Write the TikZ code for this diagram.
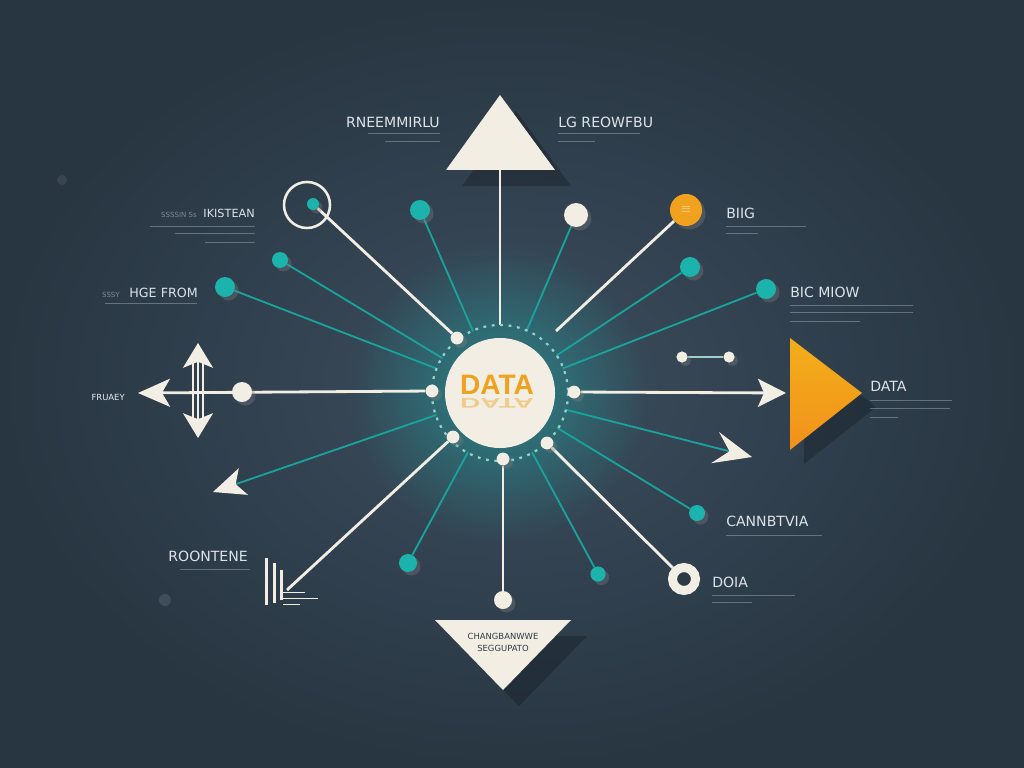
\documentclass[tikz,border=0pt]{standalone}
\usepackage{fontspec}
\setmainfont{DejaVu Sans}
\newfontfamily\hubfont{Liberation Sans}
\usetikzlibrary{arrows.meta,fadings,shadows,positioning}
\definecolor{bgin}{HTML}{3C4D5D}
\definecolor{bgout}{HTML}{283642}
\definecolor{bgmid}{HTML}{2C3A46}
\definecolor{cream}{HTML}{F2EEE4}
\definecolor{tealdot}{HTML}{1BB3AC}
\definecolor{tealline}{HTML}{18A39D}
\definecolor{amber}{HTML}{F0A11E}
\definecolor{labelgray}{HTML}{DDE2E8}
\definecolor{fineline}{HTML}{7D8A96}
\tikzfading[name=glowfade, inner color=transparent!0, outer color=transparent!100]
\pgfdeclarelayer{back}
\pgfdeclarelayer{edges}
\pgfsetlayers{back,edges,main}
\begin{document}
\begin{tikzpicture}[x=0.025cm, y=-0.025cm,
    dshadow/.style={drop shadow={opacity=.35, shadow xshift=2.5pt, shadow yshift=-2.5pt}},
    wdot/.style={circle, fill=cream, inner sep=0pt, minimum size=0.32cm, dshadow},
    tdot/.style={circle, fill=tealdot, inner sep=0pt, minimum size=0.5cm, dshadow},
    wline/.style={draw=cream, line width=2pt},
    tline/.style={draw=tealline, line width=1.3pt},
    lbl/.style={text=labelgray, font=\fontsize{10}{12}\selectfont, inner sep=0pt},
    tinylbl/.style={text=fineline, font=\fontsize{5}{6}\selectfont, inner sep=0pt},
    fine/.style={draw=fineline, line width=0.6pt, opacity=.7},
    shadowfill/.style={fill=black, opacity=.22}]

    \begin{pgfonlayer}{back}
    \shade[inner color=bgin, outer color=bgout] (0,0) rectangle (1024,768);
    \fill[tealdot, path fading=glowfade, opacity=.55] (500,393) circle[radius=150];
    \fill[fineline, opacity=.25] (165,600) circle[radius=6];
    \fill[fineline, opacity=.2] (62,180) circle[radius=5];
    \fill[shadowfill, shift={(16,16)}] (500,95) -- (555,170) -- (446,170) -- cycle;
    \fill[shadowfill, shift={(16,16)}] (435,620) -- (571,620) -- (503,690) -- cycle;
    \fill[shadowfill, shift={(14,14)}] (790,338) -- (862,393) -- (790,450) -- cycle;
    \end{pgfonlayer}

    \useasboundingbox (0,0) rectangle (1024,768);

    \node (hub) [circle, fill=cream, minimum size=2.75cm, inner sep=0pt] at (500,393) {};
    \draw[cream!55!tealdot, line width=1.6pt, dash pattern=on 2pt off 4pt] (hub.center) circle[radius=68];
    \node (hubtxt) [text=amber, font=\hubfont\bfseries\fontsize{20}{20}\selectfont] at (497,385) {DATA};
    \node (hubecho) [text=amber, opacity=.45, font=\hubfont\bfseries\fontsize{20}{20}\selectfont] at (497,403) {\scalebox{1}[-.5]{DATA}};

    \node (pTL) [wdot] at (457,338) {};
    \node (pL) [wdot] at (432,391) {};
    \node (pR) [wdot] at (574,392) {};
    \node (pBL) [wdot] at (453,437) {};
    \node (pBR) [wdot] at (547,443) {};
    \node (pB) [wdot] at (503,459) {};
    \coordinate (pT) at (500,325);
    \coordinate (pTR) at (556,331);

    \fill[cream] (500,95) -- (555,170) -- (446,170) -- cycle;
    \coordinate (triTopBase) at (500,170);
    \fill[cream] (435,620) -- (571,620) -- (503,690) -- cycle;
    \node (triBotA) [text=bgmid, font=\fontsize{6}{7}\selectfont] at (503,636) {CHANGBANWWE};
    \node (triBotB) [text=bgmid, font=\fontsize{6}{7}\selectfont] at (503,648) {SEGGUPATO};
    \shade[top color=amber!85!yellow, bottom color=amber!90!red] (790,338) -- (862,393) -- (790,450) -- cycle;

    \node (ringUL) [circle, draw=cream, line width=1.8pt, minimum size=1.15cm, inner sep=0pt] at (307,205) {};
    \node (ringULc) [tdot, minimum size=0.3cm] at (313,204) {};
    \node (tA) [tdot] at (420,210) {};
    \node (tB) [tdot, minimum size=0.4cm] at (280,260) {};
    \node (tC) [tdot] at (225,287) {};
    \node (tD) [tdot, minimum size=0.45cm] at (408,563) {};
    \node (tE) [tdot, minimum size=0.38cm] at (598,574) {};
    \node (tF) [tdot, minimum size=0.4cm] at (697,513) {};
    \node (tG) [tdot] at (766,289) {};
    \node (tH) [tdot] at (690,267) {};
    \node (cDot) [wdot, minimum size=0.6cm] at (576,215) {};
    \node (oDot) [circle, fill=amber, minimum size=0.8cm, inner sep=0pt, dshadow] at (686,210) {};
    \node (oIcon) [text=cream!90!amber, font=\small] at (oDot) {$\equiv$};
    \node (wL) [wdot, minimum size=0.5cm] at (242,392) {};
    \node (wBot) [wdot, minimum size=0.45cm] at (503,600) {};
    \node (ringBR) [circle, draw=cream, line width=6.4pt, fill=bgmid, minimum size=0.575cm, inner sep=0pt] at (684,579) {};
    \node (lkA) [wdot, minimum size=0.28cm] at (682,357) {};
    \node (lkB) [wdot, minimum size=0.28cm] at (729,357) {};

    \coordinate (arL) at (138,393);
    \coordinate (arLL) at (213,492);
    \coordinate (arR) at (786,393);
    \coordinate (arChev) at (752,457);
    \coordinate (stairTip) at (287,590);
    \coordinate (vT) at (198,343);
    \coordinate (vB) at (198,438);

    \begin{pgfonlayer}{edges}
    \draw[wline] (triTopBase) -- (pT);
    \draw[wline] (pTL) -- (ringULc);
    \draw[wline] (pTR) -- (oDot);
    \draw[wline] (pB) -- (wBot);
    \draw[wline] (pBR) -- (ringBR);
    \draw[wline] (pBL) -- (stairTip);
    \draw[wline, -{Stealth[length=.8cm, width=.7cm, inset=.2cm]}] (pL) -- (arL);
    \draw[wline, -{Stealth[length=.7cm, width=.7cm, inset=.15cm]}] (pR) -- (arR);
    \foreach \tn in {tA,tB,tC,tD,tE,tF,tG,tH,cDot}
        \draw[tline, shorten >=0.3cm] (\tn) -- (hub);
    \draw[tline, shorten <=0.3cm, -{Stealth[color=cream, length=.8cm, width=.7cm, inset=.2cm]}] (hub) -- (arLL);
    \draw[tline, shorten <=0.3cm, -{Stealth[color=cream, length=.95cm, width=.8cm, inset=.37cm]}] (hub) -- (arChev);
    \draw[cream!60!tealline, line width=1.2pt] (lkA) -- (lkB);
    \draw[cream, line width=1.2pt, {Stealth[length=.62cm, width=.75cm, inset=.15cm]}-{Stealth[length=.62cm, width=.75cm, inset=.15cm]}] (vB) -- (vT);
    \draw[cream, line width=1.2pt] (193,362) -- (193,420) (203,362) -- (203,420);
    \end{pgfonlayer}

    \fill[cream] (265,558) rectangle (268,605);
    \fill[cream] (273,563) rectangle (276,603);
    \fill[cream] (280,570) rectangle (283,600);
    \draw[cream, line width=.6pt] (283,592) -- (305,592) (283,598) -- (318,598) (283,604) -- (300,604);

    \node (lblRn) [lbl, anchor=base east] at (440,128) {RNEEMMIRLU};
    \node (lblLg) [lbl, anchor=base west] at (558,128) {LG REOWFBU};
    \node (lblIk) [lbl, font=\fontsize{8}{10}\selectfont, anchor=base east] at (255,217) {IKISTEAN};
    \node (lblIkPre) [tinylbl, anchor=base east] at (197,217) {SSSSIN Ss};
    \node (lblHg) [lbl, font=\fontsize{9}{11}\selectfont, anchor=base east] at (198,297) {HGE FROM};
    \node (lblHgPre) [tinylbl, anchor=base east] at (120,297) {SSSY};
    \node (lblFr) [lbl, font=\fontsize{6}{7}\selectfont, text=labelgray!70, anchor=base east] at (125,400) {FRUAEY};
    \node (lblRo) [lbl, anchor=base east] at (248,561) {ROONTENE};
    \node (lblBi) [lbl, anchor=base west] at (726,218) {BIIG};
    \node (lblBm) [lbl, anchor=base west] at (790,297) {BIC MIOW};
    \node (lblDa) [lbl, anchor=base west] at (870,391) {DATA};
    \node (lblCa) [lbl, anchor=base west] at (726,526) {CANNBTVIA};
    \node (lblDo) [lbl, anchor=base west] at (712,587) {DOIA};
    \foreach \xa/\xb/\yy in {368/440/133, 385/440/141, 558/640/133, 558/595/141,
        150/255/226, 175/255/233, 205/255/242, 105/197/303, 180/250/569,
        726/806/226, 726/758/233, 790/913/305, 790/913/312, 790/860/321,
        870/952/400, 870/950/408, 870/898/417, 726/822/535, 712/795/595, 712/752/602}
        \draw[fine] (\xa,\yy) -- (\xb,\yy);
\end{tikzpicture}
\end{document}
